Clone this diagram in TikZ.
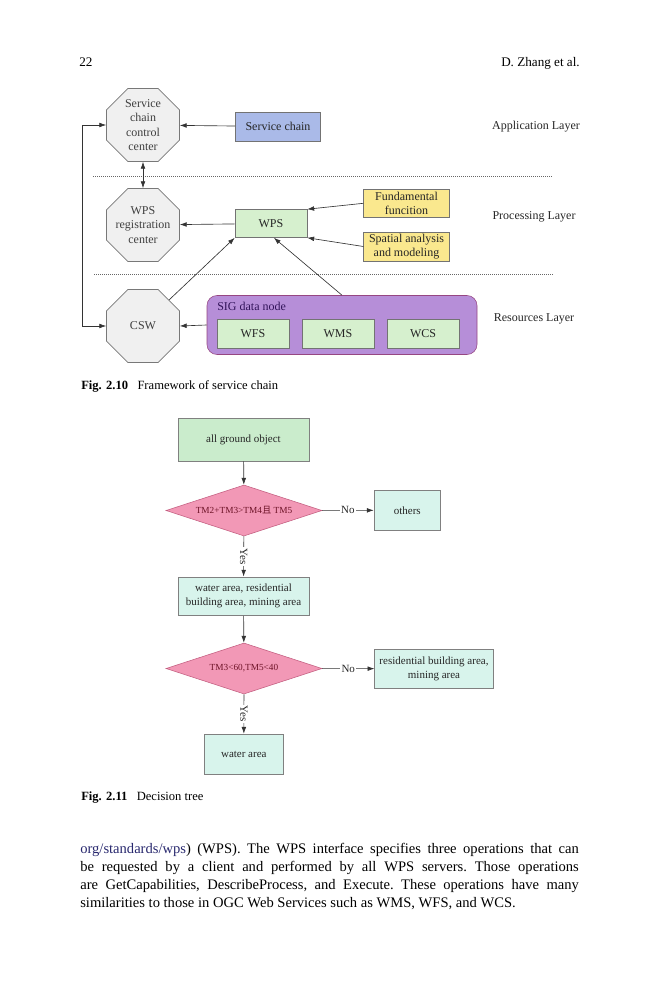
\documentclass[tikz,border=0pt]{standalone}
\usepackage{fontspec}
\setmainfont{Liberation Serif}
\newfontfamily\cjkfont{Noto Sans CJK SC}
\usetikzlibrary{shapes.geometric,arrows.meta,positioning}

\definecolor{octafill}{RGB}{240,240,240}
\definecolor{octaline}{RGB}{120,120,120}
\definecolor{chainblue}{RGB}{170,186,232}
\definecolor{wpsgreen}{RGB}{214,240,206}
\definecolor{funcyellow}{RGB}{250,232,142}
\definecolor{sigpurple}{RGB}{182,142,216}
\definecolor{sigline}{RGB}{150,70,130}
\definecolor{sigtext}{RGB}{50,20,90}
\definecolor{startgreen}{RGB}{202,236,204}
\definecolor{leafcyan}{RGB}{216,244,236}
\definecolor{testpink}{RGB}{242,152,182}
\definecolor{testline}{RGB}{196,96,130}
\definecolor{testtext}{RGB}{110,20,40}
\definecolor{linkblue}{RGB}{40,40,110}

\begin{document}
\begin{tikzpicture}[x=0.7pt,y=-0.7pt,
every node/.style={font=\fontsize{8.4}{10}\selectfont,text=black!85},
octa/.style={regular polygon,regular polygon sides=8,minimum size=55.3pt,
  inner sep=0pt,draw=octaline,fill=octafill},
octatext/.style={align=center,inner sep=0pt,text=black!75},
box/.style={rectangle,draw=black!55,minimum height=20.3pt,inner sep=1pt,align=center},
sig/.style={rectangle,rounded corners=7pt,draw=sigline,fill=sigpurple},
flow/.style={rectangle,draw=black!50,align=center,inner sep=1pt,
  font=\fontsize{7.7}{9.8}\selectfont},
test/.style={diamond,aspect=3,draw=testline,fill=testpink,inner sep=0pt,
  minimum width=109.2pt,minimum height=35.7pt,
  font=\fontsize{6.5}{8}\selectfont,text=testtext},
arr/.style={draw=black!80,line width=0.45pt,-{Latex[length=4.8pt,width=3.3pt]}},
biarr/.style={draw=black!80,line width=0.45pt,{Latex[length=4.8pt,width=3.3pt]}-{Latex[length=4.8pt,width=3.3pt]}},
sep/.style={draw=black!60,densely dotted,line width=0.4pt},
lbl/.style={fill=white,inner sep=0.8pt,font=\fontsize{7.7}{9}\selectfont},
page/.style={inner sep=0pt,text=black},
]
\useasboundingbox (0,0) rectangle (659,1000);

% running head
\node[page,anchor=base west,font=\fontsize{9.2}{11}\selectfont] (pgno) at (79,66.5) {22};
\node[page,anchor=base east,font=\fontsize{9.2}{11}\selectfont] (runhead) at (580,66.5) {D. Zhang et al.};

% Fig. 2.10
\node[octa,label={[octatext]center:Service\\chain\\control\\center}] (scc) at (143,125) {};
\node[octa,label={[octatext]center:WPS\\registration\\center}] (wpr) at (143,225) {};
\node[octa,label={[octatext]center:CSW}] (csw) at (143,326) {};

\node[box,fill=chainblue,minimum width=59.5pt] (chain) at (278,126.5) {Service chain};
\node[box,fill=wpsgreen,minimum width=50.4pt,minimum height=19.6pt] (wps) at (271,223.5) {WPS};
\node[box,fill=funcyellow,minimum width=60pt,minimum height=20pt] (fund) at (406.5,203.3) {Fundamental\\funcition};
\node[box,fill=funcyellow,minimum width=60pt,minimum height=20pt] (spat) at (406.5,246.5) {Spatial analysis\\and modeling};

\node[sig,minimum width=189pt,minimum height=41.3pt] (sig) at (342,325) {};
\node[anchor=west,inner sep=0pt,text=sigtext] (sigl) at (217,306) {SIG data node};
\node[box,fill=wpsgreen,minimum width=50.4pt,minimum height=20.6pt] (wfs) at (253,334) {WFS};
\node[box,fill=wpsgreen,minimum width=50.4pt,minimum height=20.6pt] (wms) at (338,334) {WMS};
\node[box,fill=wpsgreen,minimum width=50.4pt,minimum height=20.6pt] (wcs) at (423,334) {WCS};

\node (app) at (536,127) {Application Layer};
\node (proc) at (534,217) {Processing Layer};
\node (rsc) at (534,319) {Resources Layer};

\draw[sep] (93,176) -- (552,176);
\draw[sep] (94,274.5) -- (553,274.5);

\draw[arr] (chain) -- (scc);
\draw[arr] (wps) -- (wpr);
\draw[biarr] (scc) -- (wpr);
\draw[biarr] (scc.west) -- ++(-23.5,0) |- (csw.west);
\draw[arr] (sig.west) -- (csw.east);
\draw[arr] (csw.45) -- (wps.south west);
\draw[arr] (sig.north) -- ([xshift=2pt]wps.south);
\draw[arr] (fund.west) -- (wps.north east);
\draw[arr] (spat.west) -- (wps.south east);

\node[page,anchor=base west,font=\fontsize{8.8}{10}\selectfont] (cap10) at (81,389)
  {\textbf{Fig. 2.10}\hspace{0.75em}Framework of service chain};

% Fig. 2.11
\node[flow,fill=startgreen,minimum width=91.7pt,minimum height=30.1pt] (allobj) at (243.5,439.7) {all ground object};
\node[test] (t1) at (244,510.5) {TM2+TM3>TM4{\cjkfont 且} TM5};
\node[flow,fill=leafcyan,minimum width=46.6pt,minimum height=27.5pt] (others) at (407.3,510.3) {others};
\node[flow,fill=leafcyan,minimum width=91.7pt,minimum height=27pt] (wrm) at (243.5,596.2) {water area, residential\\building area, mining area};
\node[test] (t2) at (244,668.5) {TM3<60,TM5<40};
\node[flow,fill=leafcyan,minimum width=83pt,minimum height=27.5pt] (rm) at (434,668.7) {residential building area,\\mining area};
\node[flow,fill=leafcyan,minimum width=55.3pt,minimum height=28pt] (water) at (243.8,754) {water area};

\draw[arr] (allobj) -- (t1);
\draw[arr] (t1) -- node[lbl] {No} (others);
\draw[arr] (t1) -- node[lbl,rotate=-90] {Yes} (wrm);
\draw[arr] (wrm) -- (t2);
\draw[arr] (t2) -- node[lbl] {No} (rm);
\draw[arr] (t2) -- node[lbl,rotate=-90] {Yes} (water);

\node[page,anchor=base west,font=\fontsize{8.8}{10}\selectfont] (cap11) at (81,800)
  {\textbf{Fig. 2.11}\hspace{0.75em}Decision tree};

% running text
\node[page,anchor=north west,text width=349pt,align=justify,
  font=\fontsize{10.2}{12.6}\selectfont\frenchspacing] (body) at (80,843)
  {\textcolor{linkblue}{org/standards/wps}) (WPS). The WPS interface specifies three operations that can\linebreak
   be requested by a client and performed by all WPS servers. Those operations\linebreak
   are GetCapabilities, DescribeProcess, and Execute. These operations have many\linebreak
   similarities to those in OGC Web Services such as WMS, WFS, and WCS.};
\end{tikzpicture}
\end{document}
